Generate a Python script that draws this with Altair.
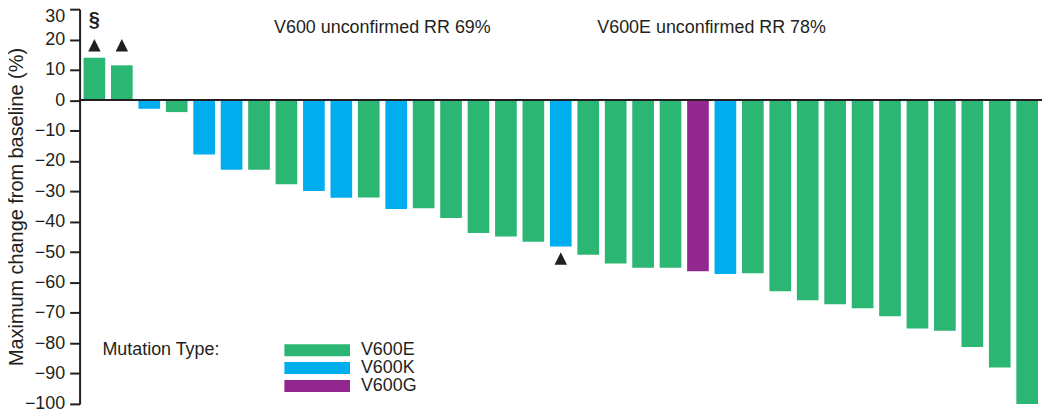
import altair as alt
import pandas as pd

# ---- data ----
bar_values = [14.0, 11.5, -2.8, -3.9, -17.9, -22.9, -22.9, -27.7, -29.9, -32.1,
              -32.0, -35.8, -35.6, -38.8, -43.7, -44.9, -46.6, -48.2, -50.9, -53.8,
              -55.2, -55.2, -56.3, -57.2, -57.0, -62.9, -65.9, -67.2, -68.5, -71.1,
              -75.2, -75.9, -81.3, -88.0, -100.0]
mutation = ["V600E", "V600E", "V600K", "V600E", "V600K", "V600K", "V600E", "V600E",
            "V600K", "V600K", "V600E", "V600K", "V600E", "V600E", "V600E", "V600E",
            "V600E", "V600K", "V600E", "V600E", "V600E", "V600E", "V600G", "V600K"] + ["V600E"] * 11
mutation_types = ["V600E", "V600K", "V600G"]
mutation_colors = ["#2bb673", "#00aeef", "#92278f"]

flag_above = [1, 2]      # ▲ above the top of the plot
flag_below = [18]        # ▲ under the bar
section_bar = [1]        # §
annot_text = ["V600 unconfirmed RR 69%", "V600E unconfirmed RR 78%"]
annot_bar = [12, 24]
y_ticks = list(range(-100, 31, 10))

patients = list(range(1, len(bar_values) + 1))
df = pd.DataFrame({"patient": patients, "value": bar_values, "mutation": mutation})

ABOVE_Y = 18.1
SECTION_Y = 24.3
ANNOT_Y = 22.2
FONT = "Liberation Sans"
INK = "#231f20"

xenc = alt.X("patient:O", sort=patients,
             scale=alt.Scale(paddingInner=0.21, paddingOuter=0.145), axis=None)
yscale = alt.Scale(domain=[-100, 30], nice=False, zero=False)
yaxis = alt.Axis(values=y_ticks,
                 title="Maximum change from baseline (%)",
                 grid=False, domainColor=INK, domainWidth=2,
                 tickColor=INK, tickWidth=2, tickSize=10,
                 labelPadding=5, labelFontSize=18, labelFont=FONT,
                 labelColor=INK, labelOverlap=False, labelFlush=False,
                 labelExpr="datum.value < 0 ? '\u2212' + format(-datum.value, 'd') : format(datum.value, 'd')",
                 labelOffset=alt.condition("datum.value == 30", alt.value(7), alt.value(0)),
                 titleFontSize=20, titleFont=FONT,
                 titleColor=INK, titleFontWeight="normal",
                 titleX=-57, titleBaseline="alphabetic")


def yq(field):
    return alt.Y(field, scale=yscale, axis=yaxis)


bars = alt.Chart(df).mark_bar().encode(
    x=xenc,
    y=yq("value:Q"),
    y2=alt.datum(0),
    color=alt.Color("mutation:N",
                    scale=alt.Scale(domain=mutation_types, range=mutation_colors),
                    legend=alt.Legend(orient="none", legendX=23, legendY=334,
                                      title="Mutation Type:", titleOrient="left",
                                      titleAnchor="start",
                                      titlePadding=61, titleFontSize=18,
                                      titleFont=FONT, titleFontWeight="normal",
                                      titleColor=INK, labelFontSize=18,
                                      labelFont=FONT, labelColor=INK,
                                      symbolType="M-1,-1H10V1H-1Z", symbolSize=144,
                                      symbolStrokeWidth=0, symbolOpacity=1,
                                      labelOffset=62, rowPadding=-1.5, padding=0)),
)

zero_rule = alt.Chart(df).mark_rule(color=INK, strokeWidth=1.6).encode(
    y=alt.YDatum(0, scale=yscale, axis=yaxis))

tri_shape = "M0,-1L1,1L-1,1Z"
up_df = pd.DataFrame({"patient": flag_above, "value": [ABOVE_Y] * len(flag_above)})
tri_up = alt.Chart(up_df).mark_point(shape=tri_shape, filled=True, size=156,
                                      color=INK, opacity=1).encode(
    x=alt.X("patient:O", sort=patients), y=yq("value:Q"))

down_df = df[df["patient"].isin(flag_below)]
tri_down = alt.Chart(down_df).mark_point(shape=tri_shape, filled=True, size=156,
                                          color=INK, opacity=1, yOffset=12).encode(
    x=alt.X("patient:O", sort=patients), y=yq("value:Q"))

sec_df = pd.DataFrame({"patient": section_bar, "value": [SECTION_Y] * len(section_bar), "t": ["§"]})
section = alt.Chart(sec_df).mark_text(font=FONT, fontSize=20, fontWeight="bold",
                                      color=INK, baseline="alphabetic").encode(
    x=alt.X("patient:O", sort=patients), y=yq("value:Q"), text="t:N")

ann_df = pd.DataFrame({"patient": annot_bar, "t": annot_text, "value": [ANNOT_Y] * len(annot_bar)})
annot = alt.Chart(ann_df).mark_text(font=FONT, fontSize=18, color=INK,
                                    align="center", baseline="alphabetic", dx=-3).encode(
    x=alt.X("patient:O", sort=patients, bandPosition=0), y=yq("value:Q"), text="t:N")

chart = alt.layer(bars, tri_up, tri_down, section, annot, zero_rule).properties(
    width=968, height=397,
    autosize=alt.AutoSizeParams(type="none"),
    padding={"left": 72, "top": 0, "right": 0, "bottom": 8},
).configure(font=FONT).configure_view(stroke=None)

chart.save("out.html", embed_options={"renderer": "svg", "actions": False})
